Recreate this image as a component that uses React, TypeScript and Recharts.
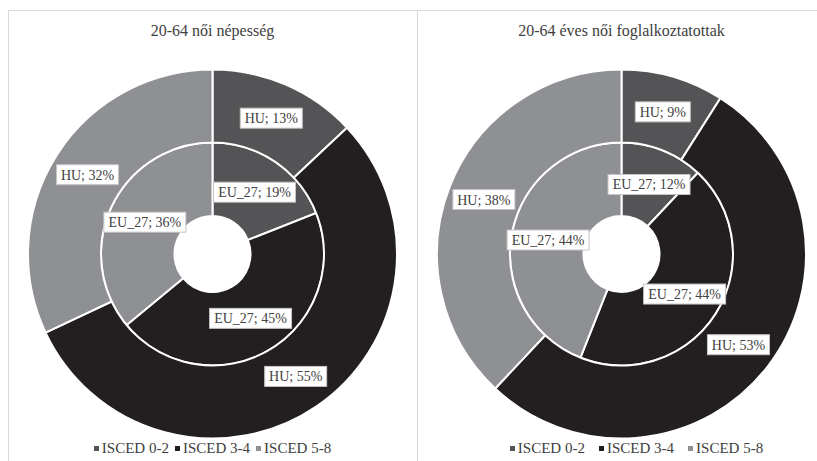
import React from 'react';
import { PieChart, Pie, Cell } from 'recharts';

const categories = ['ISCED 0-2', 'ISCED 3-4', 'ISCED 5-8'];
const colors = ['#545456', '#231f20', '#8f9093'];

const popEU = [19, 45, 36];
const popHU = [13, 55, 32];
const empEU = [12, 44, 44];
const empHU = [9, 53, 38];

const panelTitles = ['20-64 női népesség', '20-64 éves női foglalkoztatottak'];

const FONT = "'Liberation Serif', 'Times New Roman', Times, serif";
const TEXT = '#404040';
const GRID = '#d9d9d9';
const RAD = Math.PI / 180;

let ctx: CanvasRenderingContext2D | null = null;
function textWidth(s: string, size: number) {
  if (!ctx) ctx = document.createElement('canvas').getContext('2d');
  if (!ctx) return s.length * size * 0.5;
  ctx.font = `${size}px ${FONT}`;
  return ctx.measureText(s).width;
}

const toRows = (vals: number[]) => vals.map((v, i) => ({ name: categories[i], value: v }));

const makeLabel = (prefix: string) => (props: any) => {
  const { cx, cy, midAngle, innerRadius, outerRadius, value } = props;
  const r = (innerRadius + outerRadius) / 2;
  const x = cx + r * Math.cos(-midAngle * RAD);
  const y = cy + r * Math.sin(-midAngle * RAD);
  const text = `${prefix}; ${value}%`;
  const w = Math.round(textWidth(text, 14) + 9);
  return (
    <g>
      <rect x={x - w / 2} y={y - 10} width={w} height={20} fill="#fff" stroke="#c4c4c4" strokeWidth={1} />
      <text x={x} y={y + 5} textAnchor="middle" fontSize={14} style={{ fontFamily: FONT }} fill={TEXT}>
        {text}
      </text>
    </g>
  );
};

function Donut({ title, inner, outer, left, gap, shift }: { title: string; inner: number[]; outer: number[]; left: number; gap: number; shift: number }) {
  return (
    <div style={{ position: 'absolute', left, top: 10, width: 409, height: 451 }}>
      <div
        style={{
          position: 'absolute',
          top: 12,
          left: 0,
          width: 409,
          textAlign: 'center',
          fontSize: 16,
          color: TEXT,
          fontFamily: FONT,
          lineHeight: '18px',
        }}
      >
        {title}
      </div>
      <PieChart width={409} height={451} margin={{ top: 0, right: 0, bottom: 0, left: 0 }}>
        <Pie
          data={toRows(inner)}
          dataKey="value"
          nameKey="name"
          cx={204.5}
          cy={244}
          innerRadius={38}
          outerRadius={111.5}
          startAngle={90}
          endAngle={-270}
          stroke="#fff"
          strokeWidth={2}
          label={makeLabel('EU_27')}
          labelLine={false}
          isAnimationActive={false}
        >
          {inner.map((_, i) => (
            <Cell key={i} fill={colors[i]} />
          ))}
        </Pie>
        <Pie
          data={toRows(outer)}
          dataKey="value"
          nameKey="name"
          cx={204.5}
          cy={244}
          innerRadius={111.5}
          outerRadius={184.5}
          startAngle={90}
          endAngle={-270}
          stroke="#fff"
          strokeWidth={2}
          label={makeLabel('HU')}
          labelLine={false}
          isAnimationActive={false}
        >
          {outer.map((_, i) => (
            <Cell key={i} fill={colors[i]} />
          ))}
        </Pie>
      </PieChart>
      <div
        style={{
          position: 'absolute',
          top: 429,
          left: shift,
          width: 409,
          display: 'flex',
          justifyContent: 'center',
          gap,
          fontSize: 15,
          fontFamily: FONT,
          color: TEXT,
          lineHeight: '18px',
        }}
      >
        {categories.map((c, i) => (
          <span key={c} style={{ display: 'flex', alignItems: 'center' }}>
            <span style={{ width: 5, height: 5, background: colors[i], marginRight: 3, display: 'inline-block' }} />
            {c}
          </span>
        ))}
      </div>
    </div>
  );
}

export default function App() {
  return (
    <div style={{ position: 'absolute', left: 0, top: 0, width: 817, height: 461, overflow: 'hidden', background: '#fff', fontFamily: FONT }}>
      <div style={{ position: 'absolute', left: 8, top: 10, width: 820, height: 1, background: GRID }} />
      <div style={{ position: 'absolute', left: 8, top: 10, width: 1, height: 460, background: GRID }} />
      <div style={{ position: 'absolute', left: 417, top: 10, width: 1, height: 460, background: GRID }} />
      <Donut title={panelTitles[0]} inner={popEU} outer={popHU} left={8} gap={6} shift={0} />
      <Donut title={panelTitles[1]} inner={empEU} outer={empHU} left={417} gap={14} shift={15} />
    </div>
  );
}
